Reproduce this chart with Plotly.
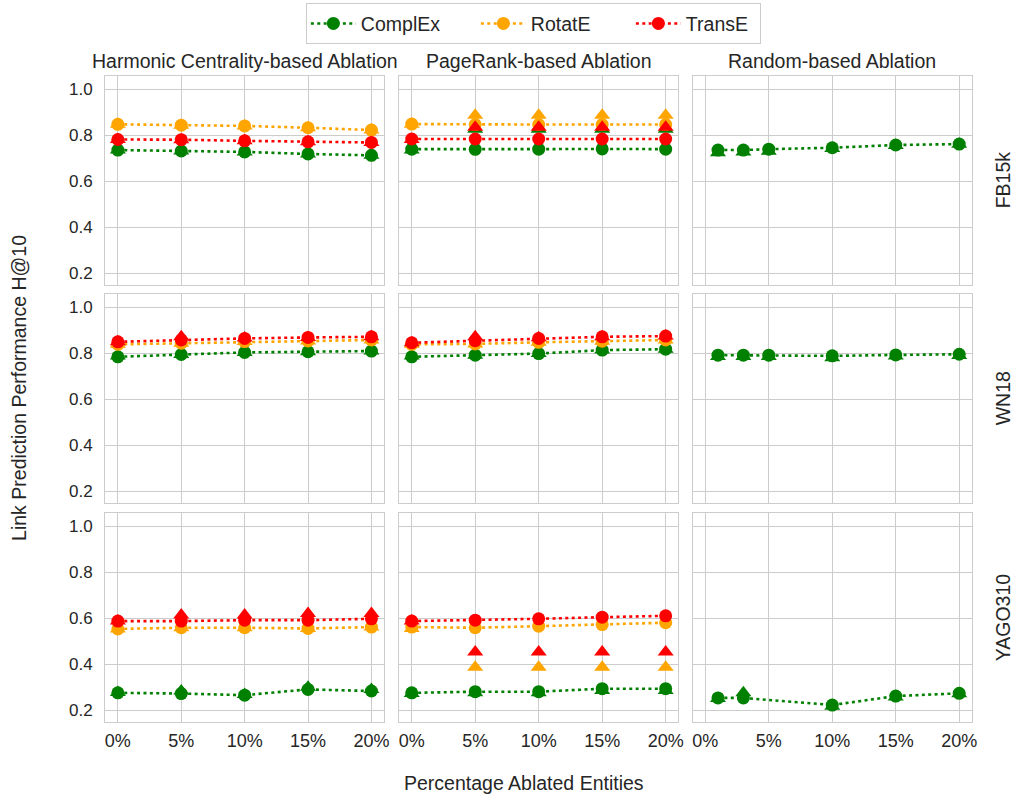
import plotly.graph_objects as go

# ---------------- data ----------------
models = ["ComplEx", "RotatE", "TransE"]
datasets = ["FB15k", "WN18", "YAGO310"]
methods = ["Harmonic Centrality-based Ablation", "PageRank-based Ablation", "Random-based Ablation"]
x_ticks = [0, 5, 10, 15, 20]
x_tick_labels = ["0%", "5%", "10%", "15%", "20%"]

x_ablation = [0, 5, 10, 15, 20]
x_random_fb = [1, 3, 5, 10, 15, 20]
x_random_wn = [1, 3, 5, 10, 15, 20]
x_random_yago = [1, 3, 10, 15, 20]

# FB15k - Harmonic
fb_harm_complex = [0.735, 0.731, 0.727, 0.718, 0.712]
fb_harm_rotate = [0.847, 0.843, 0.840, 0.832, 0.822]
fb_harm_transe = [0.781, 0.780, 0.775, 0.771, 0.768]
fb_harm_complex_tri = [0.735, 0.731, 0.727, 0.718, 0.712]
fb_harm_rotate_tri = [0.847, 0.843, 0.840, 0.832, 0.822]
fb_harm_transe_tri = [0.781, 0.780, 0.775, 0.771, 0.768]
# FB15k - PageRank
fb_pr_complex = [0.739, 0.738, 0.739, 0.740, 0.739]
fb_pr_rotate = [0.848, 0.846, 0.846, 0.846, 0.846]
fb_pr_transe = [0.783, 0.783, 0.783, 0.783, 0.783]
fb_pr_complex_tri = [0.735, 0.825, 0.825, 0.825, 0.825]
fb_pr_rotate_tri = [0.847, 0.886, 0.886, 0.886, 0.886]
fb_pr_transe_tri = [0.781, 0.834, 0.834, 0.834, 0.834]
# FB15k - Random
fb_rand_complex = [0.735, 0.735, 0.739, 0.745, 0.757, 0.761]
fb_rand_complex_tri = [0.723, 0.727, 0.730, 0.742, 0.755, 0.760]

# WN18 - Harmonic
wn_harm_complex = [0.784, 0.794, 0.803, 0.806, 0.809]
wn_harm_rotate = [0.838, 0.843, 0.850, 0.853, 0.857]
wn_harm_transe = [0.849, 0.857, 0.864, 0.868, 0.871]
wn_harm_complex_tri = [0.787, 0.794, 0.803, 0.806, 0.809]
wn_harm_rotate_tri = [0.838, 0.843, 0.850, 0.853, 0.857]
wn_harm_transe_tri = [0.849, 0.871, 0.866, 0.868, 0.871]
# WN18 - PageRank
wn_pr_complex = [0.784, 0.791, 0.798, 0.813, 0.817]
wn_pr_rotate = [0.838, 0.840, 0.847, 0.852, 0.857]
wn_pr_transe = [0.845, 0.854, 0.864, 0.871, 0.874]
wn_pr_complex_tri = [0.787, 0.791, 0.798, 0.813, 0.817]
wn_pr_rotate_tri = [0.838, 0.840, 0.847, 0.852, 0.857]
wn_pr_transe_tri = [0.845, 0.871, 0.867, 0.871, 0.874]
# WN18 - Random
wn_rand_complex = [0.791, 0.791, 0.791, 0.788, 0.792, 0.795]
wn_rand_complex_tri = [0.785, 0.785, 0.785, 0.780, 0.787, 0.790]

# YAGO310 - Harmonic
yago_harm_complex = [0.275, 0.272, 0.265, 0.290, 0.283]
yago_harm_rotate = [0.553, 0.558, 0.558, 0.555, 0.561]
yago_harm_transe = [0.587, 0.587, 0.591, 0.591, 0.597]
yago_harm_complex_tri = [0.277, 0.283, 0.268, 0.299, 0.290]
yago_harm_rotate_tri = [0.553, 0.558, 0.558, 0.555, 0.561]
yago_harm_transe_tri = [0.587, 0.613, 0.613, 0.620, 0.620]
# YAGO310 - PageRank
yago_pr_complex = [0.275, 0.280, 0.280, 0.293, 0.293]
yago_pr_rotate = [0.561, 0.558, 0.565, 0.572, 0.580]
yago_pr_transe = [0.587, 0.591, 0.597, 0.604, 0.610]
yago_pr_complex_tri = [0.272, 0.275, 0.275, 0.285, 0.285]
yago_pr_rotate_tri = [0.555, 0.386, 0.386, 0.386, 0.386]
yago_pr_transe_tri = [0.587, 0.453, 0.453, 0.453, 0.453]
# YAGO310 - Random
yago_rand_complex = [0.253, 0.253, 0.222, 0.261, 0.273]
yago_rand_complex_tri = [0.250, 0.275, 0.217, 0.257, 0.271]

# (row, col) -> list of (model, x, circles, triangles)
panels = {
    (1, 1): [("ComplEx", x_ablation, fb_harm_complex, fb_harm_complex_tri),
             ("RotatE", x_ablation, fb_harm_rotate, fb_harm_rotate_tri),
             ("TransE", x_ablation, fb_harm_transe, fb_harm_transe_tri)],
    (1, 2): [("ComplEx", x_ablation, fb_pr_complex, fb_pr_complex_tri),
             ("RotatE", x_ablation, fb_pr_rotate, fb_pr_rotate_tri),
             ("TransE", x_ablation, fb_pr_transe, fb_pr_transe_tri)],
    (1, 3): [("ComplEx", x_random_fb, fb_rand_complex, fb_rand_complex_tri)],
    (2, 1): [("ComplEx", x_ablation, wn_harm_complex, wn_harm_complex_tri),
             ("RotatE", x_ablation, wn_harm_rotate, wn_harm_rotate_tri),
             ("TransE", x_ablation, wn_harm_transe, wn_harm_transe_tri)],
    (2, 2): [("ComplEx", x_ablation, wn_pr_complex, wn_pr_complex_tri),
             ("RotatE", x_ablation, wn_pr_rotate, wn_pr_rotate_tri),
             ("TransE", x_ablation, wn_pr_transe, wn_pr_transe_tri)],
    (2, 3): [("ComplEx", x_random_wn, wn_rand_complex, wn_rand_complex_tri)],
    (3, 1): [("ComplEx", x_ablation, yago_harm_complex, yago_harm_complex_tri),
             ("RotatE", x_ablation, yago_harm_rotate, yago_harm_rotate_tri),
             ("TransE", x_ablation, yago_harm_transe, yago_harm_transe_tri)],
    (3, 2): [("ComplEx", x_ablation, yago_pr_complex, yago_pr_complex_tri),
             ("RotatE", x_ablation, yago_pr_rotate, yago_pr_rotate_tri),
             ("TransE", x_ablation, yago_pr_transe, yago_pr_transe_tri)],
    (3, 3): [("ComplEx", x_random_yago, yago_rand_complex, yago_rand_complex_tri)],
}

# ---------------- styling ----------------
colors = {"ComplEx": "#008000", "RotatE": "#FFA500", "TransE": "#FF0000"}
legend_widths = {"ComplEx": 110, "RotatE": 95, "TransE": 68}
W, H = 1019, 797
FONT = "Liberation Sans, Arial, Helvetica, sans-serif"
TXT = "#262626"
GRID = "#cccccc"
XTICK_SIZE = 18
YTICK_SIZE = 17
LABEL_SIZE = 19.5

col_px = [(105.7, 386.0), (401.0, 681.7), (696.0, 976.7)]
row_px = [(76.0, 284.6), (294.0, 502.6), (513.0, 721.6)]

fig = go.Figure()
layout_axes = {}
shown = set()
for r in range(1, 4):
    for c in range(1, 4):
        idx = (r - 1) * 3 + c
        xa = "x" if idx == 1 else f"x{idx}"
        ya = "y" if idx == 1 else f"y{idx}"
        x0, x1 = col_px[c - 1]
        y0, y1 = row_px[r - 1]
        layout_axes["xaxis" if idx == 1 else f"xaxis{idx}"] = dict(
            domain=[x0 / W, x1 / W], anchor=ya, range=[-1, 21],
            tickvals=x_ticks, ticktext=x_tick_labels, showticklabels=(r == 3),
            showgrid=True, gridcolor=GRID, gridwidth=1, zeroline=False,
            showline=True, mirror=True, linecolor=GRID, linewidth=1.25,
            ticks="", ticklabelstandoff=3,
            tickfont=dict(size=XTICK_SIZE, color=TXT, family=FONT),
        )
        layout_axes["yaxis" if idx == 1 else f"yaxis{idx}"] = dict(
            domain=[1 - y1 / H, 1 - y0 / H], anchor=xa, range=[0.15, 1.057],
            tickvals=[0.2, 0.4, 0.6, 0.8, 1.0], ticktext=["0.2", "0.4", "0.6", "0.8", "1.0"],
            showticklabels=(c == 1),
            showgrid=True, gridcolor=GRID, gridwidth=1, zeroline=False,
            showline=True, mirror=True, linecolor=GRID, linewidth=1.25,
            ticks="", ticklabelstandoff=8,
            tickfont=dict(size=YTICK_SIZE, color=TXT, family=FONT),
        )
        for model, xs, circ, tri in panels[(r, c)]:
            col = colors[model]
            fig.add_trace(go.Scatter(
                x=xs, y=circ, mode="lines+markers", name=model,
                line=dict(color=col, width=2.6, dash="3px,3.4px"),
                marker=dict(symbol="circle", size=13, color=col, line=dict(width=0)),
                xaxis=xa, yaxis=ya, legendgroup=model,
                showlegend=(model not in shown), legendwidth=legend_widths[model],
            ))
            shown.add(model)
            fig.add_trace(go.Scatter(
                x=xs, y=tri, mode="markers", name=model,
                marker=dict(symbol="triangle-up", size=14, color=col, line=dict(width=0)),
                xaxis=xa, yaxis=ya, legendgroup=model, showlegend=False,
            ))

annotations = []
for i, m in enumerate(methods):
    x0, x1 = col_px[i]
    annotations.append(dict(text=m, x=(x0 + x1) / 2 / W, y=1 - 61 / H, xref="paper", yref="paper",
                            showarrow=False, xanchor="center", yanchor="middle",
                            font=dict(size=LABEL_SIZE, color=TXT, family=FONT)))
for i, d in enumerate(datasets):
    y0, y1 = row_px[i]
    annotations.append(dict(text=d, x=1008 / W, y=1 - (y0 + y1) / 2 / H, xref="paper", yref="paper",
                            showarrow=False, xanchor="center", yanchor="middle", textangle=-90,
                            font=dict(size=LABEL_SIZE, color=TXT, family=FONT)))
annotations.append(dict(text="Link Prediction Performance H@10", x=19 / W, y=1 - 388 / H,
                        xref="paper", yref="paper", showarrow=False, textangle=-90,
                        xanchor="center", yanchor="middle",
                        font=dict(size=LABEL_SIZE, color=TXT, family=FONT)))
annotations.append(dict(text="Percentage Ablated Entities", x=527 / W, y=1 - 783 / H,
                        xref="paper", yref="paper", showarrow=False,
                        xanchor="center", yanchor="middle",
                        font=dict(size=LABEL_SIZE, color=TXT, family=FONT)))

fig.update_layout(
    width=W, height=H, margin=dict(l=0, r=0, t=0, b=0),
    plot_bgcolor="white", paper_bgcolor="white",
    font=dict(family=FONT, color=TXT, size=XTICK_SIZE),
    annotations=annotations,
    legend=dict(orientation="h", x=536 / W, y=1 - 3 / H, xanchor="center", yanchor="top",
                bordercolor=GRID, borderwidth=1.25, bgcolor="white",
                font=dict(size=LABEL_SIZE, color=TXT, family=FONT), itemwidth=45,
                tracegroupgap=0),
    **layout_axes,
)

fig.write_html("out.html", config={"displayModeBar": False},
               post_script="document.body.style.margin='0';")
